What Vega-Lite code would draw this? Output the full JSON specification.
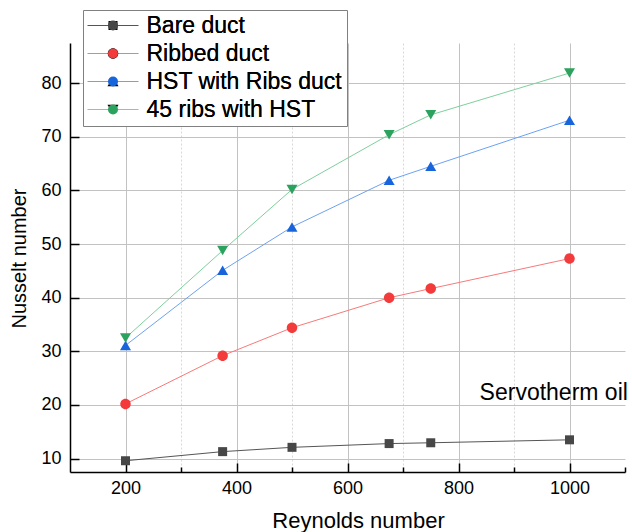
{
  "$schema": "https://vega.github.io/schema/vega-lite/v6.json",
  "width": 555,
  "height": 429,
  "autosize": {"type": "none"},
  "padding": {"left": 70, "top": 43, "right": 7, "bottom": 60},
  "background": "white",
  "config": {
    "font": "Liberation Sans",
    "view": {"stroke": null}
  },
  "data": {
    "values": [
      {"series": "Bare duct", "re": 200, "nu": 9.6},
      {"series": "Bare duct", "re": 375, "nu": 11.3},
      {"series": "Bare duct", "re": 500, "nu": 12.1},
      {"series": "Bare duct", "re": 675, "nu": 12.8},
      {"series": "Bare duct", "re": 750, "nu": 12.95},
      {"series": "Bare duct", "re": 1000, "nu": 13.5},
      {"series": "Ribbed duct", "re": 200, "nu": 20.2},
      {"series": "Ribbed duct", "re": 375, "nu": 29.2},
      {"series": "Ribbed duct", "re": 500, "nu": 34.4},
      {"series": "Ribbed duct", "re": 675, "nu": 40.0},
      {"series": "Ribbed duct", "re": 750, "nu": 41.7},
      {"series": "Ribbed duct", "re": 1000, "nu": 47.3},
      {"series": "HST with Ribs duct", "re": 200, "nu": 31.1},
      {"series": "HST with Ribs duct", "re": 375, "nu": 45.1},
      {"series": "HST with Ribs duct", "re": 500, "nu": 53.2},
      {"series": "HST with Ribs duct", "re": 675, "nu": 61.9},
      {"series": "HST with Ribs duct", "re": 750, "nu": 64.5},
      {"series": "HST with Ribs duct", "re": 1000, "nu": 73.1},
      {"series": "45 ribs with HST", "re": 200, "nu": 32.5},
      {"series": "45 ribs with HST", "re": 375, "nu": 48.8},
      {"series": "45 ribs with HST", "re": 500, "nu": 60.2},
      {"series": "45 ribs with HST", "re": 675, "nu": 70.4},
      {"series": "45 ribs with HST", "re": 750, "nu": 74.1},
      {"series": "45 ribs with HST", "re": 1000, "nu": 81.9}
    ]
  },
  "layer": [
    {
      "mark": {"type": "line", "strokeWidth": 1},
      "encoding": {
        "x": {
          "field": "re",
          "type": "quantitative",
          "scale": {"domain": [100, 1100], "nice": false, "zero": false},
          "axis": {
            "values": [200, 300, 400, 500, 600, 700, 800, 900, 1000, 1100],
            "format": "d",
            "labelExpr": "datum.value % 200 == 0 && datum.value <= 1000 ? datum.label : ''",
            "labelFlush": false,
            "labelOverlap": false,
            "labelFontSize": 18,
            "labelColor": "black",
            "labelPadding": 16,
            "grid": true,
            "gridColor": {"condition": {"test": "datum.value % 200 == 0", "value": "#c2c2c2"}, "value": "#d8d8d8"},
            "gridDash": {"condition": {"test": "datum.value % 200 == 0", "value": []}, "value": [2, 2]},
            "gridOpacity": {"condition": {"test": "datum.value >= 1100", "value": 0}, "value": 1},
            "gridWidth": 1,
            "tickSize": {"condition": {"test": "datum.value % 200 == 0", "value": -9}, "value": -5},
            "tickColor": "black",
            "tickWidth": 1.5,
            "domainColor": "black",
            "domainWidth": 1.5,
            "title": "Reynolds number",
            "titleFontSize": 22,
            "titleFontWeight": "normal",
            "titleColor": "black",
            "titleX": 288,
            "titleY": 55,
            "titleAlign": "center",
            "titleBaseline": "alphabetic"
          }
        },
        "y": {
          "field": "nu",
          "type": "quantitative",
          "scale": {"domain": [7.5, 87.5], "nice": false, "zero": false},
          "axis": {
            "values": [10, 15, 20, 25, 30, 35, 40, 45, 50, 55, 60, 65, 70, 75, 80, 85],
            "labelExpr": "datum.value % 10 == 0 ? datum.label : ''",
            "labelFlush": false,
            "labelOverlap": false,
            "labelFontSize": 18,
            "labelColor": "black",
            "labelPadding": 18,
            "grid": true,
            "gridColor": {"condition": {"test": "datum.value % 10 == 0", "value": "#c2c2c2"}, "value": "#d8d8d8"},
            "gridDash": {"condition": {"test": "datum.value % 10 == 0", "value": []}, "value": [2, 2]},
            "gridWidth": 1,
            "tickSize": {"condition": {"test": "datum.value % 10 == 0", "value": -9}, "value": -5},
            "tickColor": "black",
            "tickWidth": 1.5,
            "domainColor": "black",
            "domainWidth": 1.5,
            "title": "Nusselt number",
            "titleFontSize": 20,
            "titleFontWeight": "normal",
            "titleColor": "black",
            "titleAngle": -90,
            "titleX": -45,
            "titleY": 215,
            "titleAlign": "center",
            "titleBaseline": "alphabetic"
          }
        },
        "stroke": {
          "field": "series",
          "type": "nominal",
          "scale": {
            "domain": ["Bare duct", "Ribbed duct", "HST with Ribs duct", "45 ribs with HST"],
            "range": ["#555555", "#f77a7a", "#6ea2f0", "#7fcf9c"]
          },
          "legend": {
            "title": null,
            "orient": "none",
            "legendX": 13,
            "legendY": -33,
            "symbolType": "stroke",
            "symbolSize": 2601,
            "symbolStrokeWidth": 1,
            "clipHeight": 23,
            "labelFontSize": 23,
            "labelOpacity": 0,
            "labelOffset": 8,
            "labelLimit": 400,
            "padding": 4,
            "rowPadding": 4,
            "strokeColor": "#808080",
            "fillColor": "white",
            "cornerRadius": 0,
            "zindex": 1
          }
        },
        "detail": {"field": "series"}
      }
    },
    {
      "mark": {"type": "point", "filled": true, "opacity": 1, "size": 100},
      "encoding": {
        "x": {"field": "re", "type": "quantitative"},
        "y": {"field": "nu", "type": "quantitative"},
        "fill": {
          "field": "series",
          "type": "nominal",
          "sort": ["Bare duct", "Ribbed duct", "HST with Ribs duct", "45 ribs with HST"],
          "scale": {"range": ["#474747", "#f43b3b", "#1764dc", "#2ba25d"]},
          "legend": {
            "title": null,
            "orient": "none",
            "legendX": 13,
            "legendY": -33,
            "symbolSize": 100,
            "symbolStrokeWidth": 0,
            "symbolOffset": 14.5,
            "clipHeight": 23,
            "labelFontSize": 23,
            "labelColor": "black",
            "labelOffset": 22,
            "labelLimit": 400,
            "padding": 4,
            "rowPadding": 4,
            "zindex": 2
          }
        },
        "shape": {
          "field": "series",
          "type": "nominal",
          "sort": ["Bare duct", "Ribbed duct", "HST with Ribs duct", "45 ribs with HST"],
          "scale": {
            "range": [
              "M-0.9,-0.9L0.9,-0.9L0.9,0.9L-0.9,0.9Z",
              "M-1.05,0A1.05,1.05 0 1,0 1.05,0A1.05,1.05 0 1,0 -1.05,0Z",
              "M0,-0.95L1.1,0.95L-1.1,0.95Z",
              "M0,0.95L1.1,-0.95L-1.1,-0.95Z"
            ]
          },
          "legend": {
            "title": null,
            "orient": "none",
            "legendX": 13,
            "legendY": -33,
            "symbolSize": 100,
            "symbolStrokeWidth": 0,
            "symbolOffset": 14.5,
            "clipHeight": 23,
            "labelFontSize": 23,
            "labelColor": "black",
            "labelOffset": 22,
            "labelLimit": 400,
            "padding": 4,
            "rowPadding": 4,
            "zindex": 2
          }
        }
      }
    },
    {
      "data": {"values": [{"note": "Servotherm oil"}]},
      "mark": {"type": "text", "align": "left", "baseline": "alphabetic", "fontSize": 23, "color": "black"},
      "encoding": {
        "x": {"datum": 838, "type": "quantitative"},
        "y": {"datum": 20.9, "type": "quantitative"},
        "text": {"field": "note"}
      }
    }
  ]
}
